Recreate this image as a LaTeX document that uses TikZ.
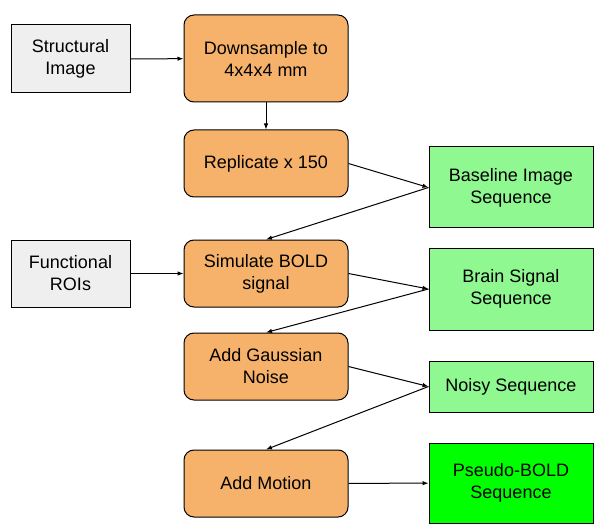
\documentclass[tikz,border=0pt]{standalone}
\usepackage{fontspec}
\setmainfont{Liberation Sans}
\usepackage{tikz}
\usetikzlibrary{arrows.meta}
\definecolor{stepfill}{HTML}{F6B26B}
\definecolor{inputfill}{HTML}{EFEFEF}
\definecolor{seqfill}{HTML}{90F890}
\definecolor{finalfill}{HTML}{00FF00}

\begin{document}
\begin{tikzpicture}[x=1pt, y=-1pt,
  every node/.style={font=\fontsize{18}{22}\selectfont, align=center, line width=1pt},
  inbox/.style={draw, fill=inputfill, minimum width=119pt, minimum height=68pt},
  stepbox/.style={draw, fill=stepfill, rounded corners=10pt, minimum width=164pt, minimum height=67pt},
  seqbox/.style={draw, fill=seqfill, minimum width=164pt, minimum height=81pt},
  arr/.style={-{Latex[length=6pt,width=4.5pt]}, line width=1pt}
]
  \useasboundingbox (0,0) rectangle (611,532);

  % inputs (left)
  \node[inbox] (struct) at (70.5,59) {Structural\\Image};
  \node[inbox, minimum height=67pt] (func) at (70.5,273.5) {Functional\\ROIs};

  % processing steps (middle)
  \node[stepbox, minimum height=87pt] (down) at (266,58.5) {Downsample to\\4x4x4 mm};
  \node[stepbox] (repl) at (266,163.5) {Replicate x 150};
  \node[stepbox] (sim) at (266,273.5) {Simulate BOLD\\signal};
  \node[stepbox] (noise) at (266,366.5) {Add Gaussian\\Noise};
  \node[stepbox] (motion) at (266,483.5) {Add Motion};

  % sequences (right)
  \node[seqbox] (base) at (511,187.5) {Baseline Image\\Sequence};
  \node[seqbox, minimum height=82pt] (brain) at (511,289) {Brain Signal\\Sequence};
  \node[seqbox, minimum height=51pt] (noisy) at (511,386.5) {Noisy Sequence};
  \node[seqbox, fill=finalfill, minimum height=80pt] (pseudo) at (511,483) {Pseudo-BOLD\\Sequence};

  % connectors
  \draw[arr] (struct) -- (down);
  \draw[arr] (func) -- (sim);
  \draw[arr] (down) -- (repl);
  \draw[arr] (repl.east) -- (base.west);
  \draw[arr] (base.west) -- (sim.north);
  \draw[arr] (sim.east) -- (brain.west);
  \draw[arr] (brain.west) -- (noise.north);
  \draw[arr] (noise.east) -- (noisy.west);
  \draw[arr] (noisy.west) -- (motion.north);
  \draw[arr] (motion) -- (pseudo);
\end{tikzpicture}
\end{document}
